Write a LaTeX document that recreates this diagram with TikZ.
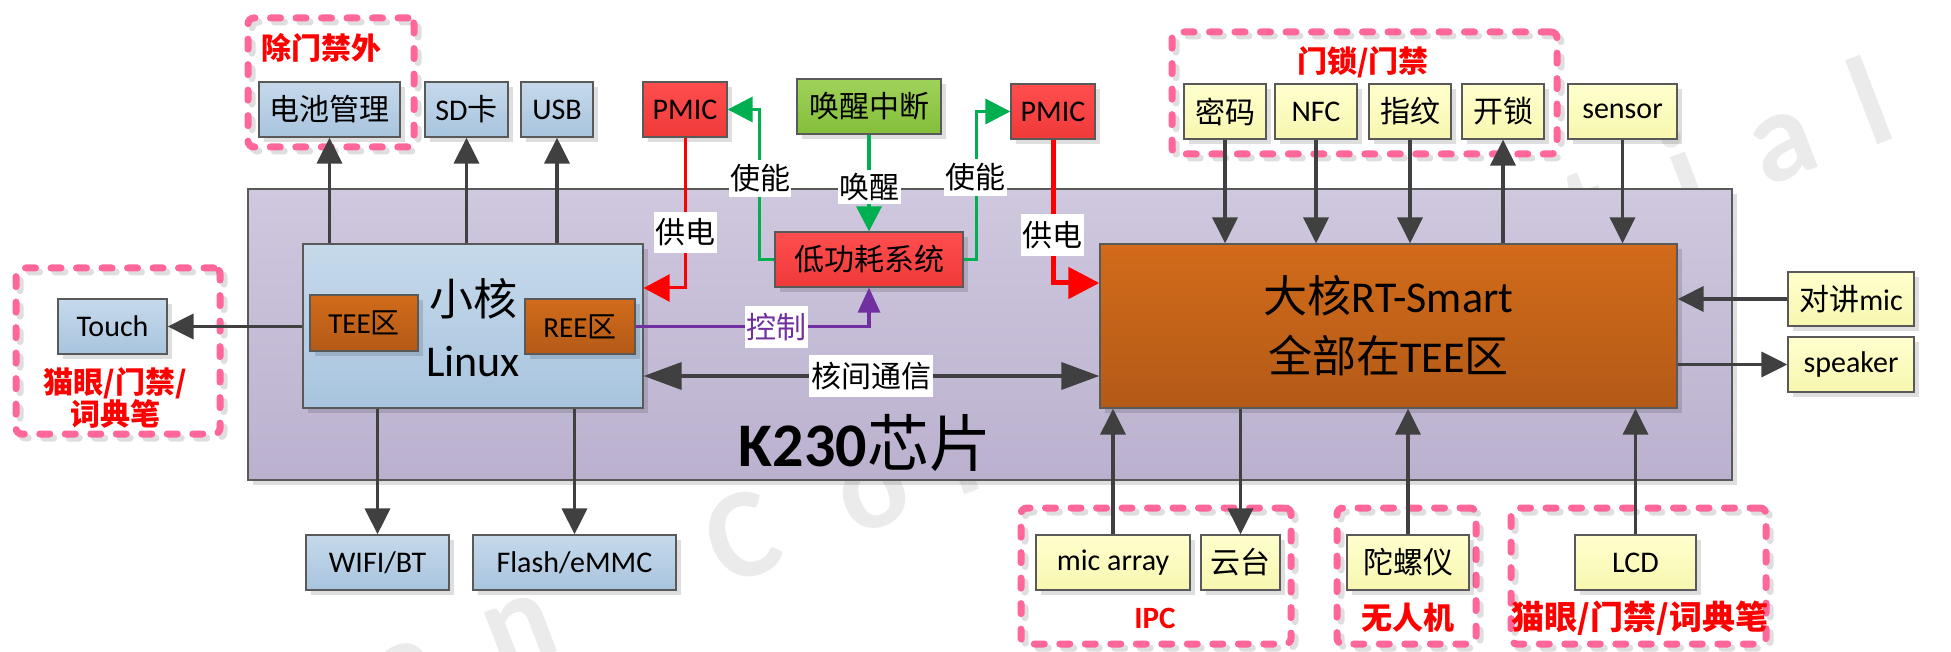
\documentclass[tikz,border=0pt]{standalone}
\usepackage{fontspec}
\setmainfont{Carlito}
\newfontfamily\cjk{Noto Sans CJK SC}
\usetikzlibrary{arrows.meta,shadows}
\definecolor{bdr}{HTML}{595959}
\definecolor{arr}{HTML}{404040}
\definecolor{pinkd}{HTML}{FF6699}
\definecolor{chipT}{HTML}{CFC8DE}
\definecolor{chipB}{HTML}{BBB1CF}
\definecolor{blueT}{HTML}{C6D9EB}
\definecolor{blueB}{HTML}{A8C4DE}
\definecolor{yelT}{HTML}{FFFFCE}
\definecolor{yelB}{HTML}{F7F7B0}
\definecolor{orT}{HTML}{D26B1A}
\definecolor{orB}{HTML}{B35A17}
\definecolor{redT}{HTML}{FF4D4D}
\definecolor{redB}{HTML}{F03A3A}
\definecolor{grnT}{HTML}{9FD25A}
\definecolor{grnB}{HTML}{84BE3A}
\definecolor{grnL}{HTML}{00B050}
\definecolor{purL}{HTML}{7030A0}
\definecolor{redL}{HTML}{FF0000}
\definecolor{wmark}{HTML}{EBEBEB}
\newcommand\fs[1]{\fontsize{#1}{#1}\selectfont}
\newcommand\bx[7]{%
  \pgfmathsetmacro\bxw{#5-#3}\pgfmathsetmacro\bxh{#6-#4}%
  \pgfmathsetmacro\bxcx{(#3+#5)/2}\pgfmathsetmacro\bxcy{(#4+#6)/2}%
  \node[#1, minimum width=\bxw pt, minimum height=\bxh pt] (#2) at (\bxcx,\bxcy) {#7};}
\tikzset{
  base/.style={draw=bdr, line width=1.3pt, inner sep=0pt, align=center,
    drop shadow={shadow xshift=5pt, shadow yshift=-5pt, fill=black, opacity=0.13}},
  bluebox/.style={base, top color=blueT, bottom color=blueB, font=\fs{30}},
  yelbox/.style={base, top color=yelT, bottom color=yelB, font=\fs{30}},
  orbox/.style={base, top color=orT, bottom color=orB, font=\fs{29}},
  redbox/.style={base, top color=redT, bottom color=redB, font=\fs{30}},
  grnbox/.style={base, top color=grnT, bottom color=grnB, font=\fs{30}},
  chipbox/.style={base, top color=chipT, bottom color=chipB},
  pinkdash/.style={draw=pinkd, line width=7pt, line cap=round, dash pattern=on 10pt off 15.5pt, rounded corners=6pt, inner sep=0pt},
  greydash/.style={pinkdash, draw=black!13},
  darr/.style={draw=arr, line width=3.5pt, -{Triangle[length=26pt,width=25pt]}},
  darr2/.style={draw=arr, line width=3.5pt, {Triangle[length=38pt,width=27pt]}-{Triangle[length=38pt,width=27pt]}},
  garr/.style={draw=grnL, line width=3.5pt, -{Triangle[length=25pt,width=25pt]}},
  parr/.style={draw=purL, line width=3.5pt, -{Triangle[length=25pt,width=22pt]}},
  rarr/.style={draw=redL, line width=3pt, -{Triangle[length=26pt,width=27pt]}},
  rarr2/.style={draw=redL, line width=5pt, -{Triangle[length=31pt,width=31pt]}},
  lbl/.style={fill=white, inner sep=0pt, font=\cjk\fs{30}},
  redlbl/.style={text=redL, inner sep=0pt, align=center},
  wm/.style={text=wmark, font=\bfseries\fs{128}, rotate=21, anchor=base, inner sep=0pt}
}
\begin{document}
\begin{tikzpicture}[x=1pt,y=-1pt]
\useasboundingbox (0,0) rectangle (1951,652);
% watermark
\foreach \xx/\ch [count=\k] in {418/a,532/n,757/C,886/o,990/n,1085/f,1170/i,1265/d,1370/e,1480/n,1603/t,1700/i,1795/a,1885/l}
  \node[wm] (wm\k) at (\xx,{575-0.3844*(\xx-757)}) {\ch};
% chip
\bx{chipbox}{chip}{248}{189}{1732}{480}{}
\node[font=\fs{62}, inner sep=0pt] (chiplbl) at (865,443) {\textbf{K230}{\cjk 芯片}};
% dashed group boxes
\bx{greydash}{g1s}{252}{22}{418}{151}{}
\bx{pinkdash}{g1}{248}{18}{414}{147}{}
\bx{greydash}{g2s}{20}{272}{224}{438}{}
\bx{pinkdash}{g2}{16}{268}{220}{434}{}
\bx{greydash}{g3s}{1176}{36}{1561}{158}{}
\bx{pinkdash}{g3}{1172}{32}{1557}{154}{}
\bx{greydash}{g4s}{1025}{512}{1295}{648}{}
\bx{pinkdash}{g4}{1021}{508}{1291}{644}{}
\bx{greydash}{g5s}{1341}{512}{1480}{648}{}
\bx{pinkdash}{g5}{1337}{508}{1476}{644}{}
\bx{greydash}{g6s}{1515}{512}{1770}{648}{}
\bx{pinkdash}{g6}{1511}{508}{1766}{644}{}
% group labels
\node[redlbl, font=\cjk\bfseries\fs{30}] (t1) at (321,48) {除门禁外};
\node[redlbl, font=\cjk\bfseries\fs{30}] (t2) at (115,398) {\fontsize{30}{41}\selectfont 猫眼/门禁/\\词典笔};
\node[redlbl, font=\cjk\bfseries\fs{30}] (t3) at (1363,62) {门锁/门禁};
\node[redlbl, font=\bfseries\fs{31}] (t4) at (1155,618) {IPC};
\node[redlbl, font=\cjk\bfseries\fs{31}] (t5) at (1408,618) {无人机};
\node[redlbl, font=\cjk\bfseries\fs{33}] (t6) at (1640,618) {猫眼/门禁/词典笔};
% cores
\bx{bluebox}{xiao}{303}{244}{643}{408}{}
\node[font=\fontsize{44}{61}\selectfont, align=center, inner sep=0pt] (xiaolbl) at (473,328) {{\cjk 小核}\\Linux};
\bx{orbox}{tee}{310}{295}{418}{351}{TEE{\cjk 区}}
\bx{orbox}{ree}{525}{299}{635}{354}{REE{\cjk 区}}
\bx{orbox, font=\fontsize{44}{60}\selectfont}{da}{1100}{244}{1677}{408}{{\cjk 大核}RT-Smart\\{\cjk 全部在}TEE{\cjk 区}}
% top boxes
\bx{bluebox}{bat}{259}{82}{400}{137}{\cjk 电池管理}
\bx{bluebox}{sd}{425}{82}{508}{137}{SD{\cjk 卡}}
\bx{bluebox}{usb}{521}{82}{593}{137}{USB}
\bx{redbox}{pmic1}{643}{82}{727}{137}{PMIC}
\bx{grnbox}{wake}{797}{79}{941}{134}{\cjk 唤醒中断}
\bx{redbox}{pmic2}{1011}{84}{1095}{139}{PMIC}
\bx{redbox}{lp}{775}{232}{963}{287}{\cjk 低功耗系统}
\bx{yelbox}{mima}{1184}{84}{1266}{139}{\cjk 密码}
\bx{yelbox}{nfc}{1275}{84}{1357}{139}{NFC}
\bx{yelbox}{zhiwen}{1369}{84}{1451}{139}{\cjk 指纹}
\bx{yelbox}{kaisuo}{1462}{84}{1544}{139}{\cjk 开锁}
\bx{yelbox}{sensor}{1568}{84}{1677}{139}{sensor}
% right boxes
\bx{yelbox}{mic}{1788}{272}{1914}{326}{{\cjk 对讲}mic}
\bx{yelbox}{spk}{1788}{337}{1914}{392}{speaker}
% left / bottom boxes
\bx{bluebox}{touch}{58}{299}{167}{354}{Touch}
\bx{bluebox}{wifi}{306}{535}{449}{590}{WIFI/BT}
\bx{bluebox}{flash}{473}{535}{676}{590}{Flash/eMMC}
\bx{yelbox}{micarr}{1036}{535}{1190}{590}{mic array}
\bx{yelbox}{yuntai}{1201}{535}{1280}{590}{\cjk 云台}
\bx{yelbox}{tuoluo}{1347}{535}{1469}{590}{\cjk 陀螺仪}
\bx{yelbox}{lcd}{1575}{535}{1696}{590}{LCD}
% connectors small core
\draw[darr] (bat |- xiao.north) -- (bat.south);
\draw[darr] (sd |- xiao.north) -- (sd.south);
\draw[darr] (usb |- xiao.north) -- (usb.south);
\draw[darr] (wifi |- xiao.south) -- (wifi.north);
\draw[darr] (flash |- xiao.south) -- (flash.north);
\draw[darr] (xiao.west |- touch) -- (touch.east);
\coordinate (hj) at (0,376);
\draw[darr2] (xiao.east |- hj) -- (da.west |- hj);
% low power system
\draw[parr] (ree.east) -| (lp.south);
\draw[garr] (wake.south) -- (lp.north);
\draw[garr] (lp.west) -- ++(-15,0) |- (pmic1.east);
\draw[garr] (lp.east) -- ++(13,0) |- (pmic2.west);
\draw[rarr] (pmic1.south) |- ([yshift=38pt]xiao.east);
\draw[rarr2] (pmic2.south) |- ([yshift=43pt]da.west);
% big core
\draw[darr] (mima.south) -- (mima |- da.north);
\draw[darr] (nfc.south) -- (nfc |- da.north);
\draw[darr] (zhiwen.south) -- (zhiwen |- da.north);
\draw[darr] (kaisuo |- da.north) -- (kaisuo.south);
\draw[darr] (sensor.south) -- (sensor |- da.north);
\draw[darr] (mic.west) -- (da.east |- mic);
\draw[darr] (da.east |- spk) -- (spk.west);
\draw[darr] (micarr.north) -- (micarr |- da.south);
\draw[darr] (yuntai |- da.south) -- (yuntai.north);
\draw[darr] (tuoluo.north) -- (tuoluo |- da.south);
\draw[darr] (lcd.north) -- (lcd |- da.south);
% labels
\node[lbl, minimum width=62pt, minimum height=37pt] (en1) at (760,178.5) {使能};
\node[lbl, minimum width=63pt, minimum height=34pt] (wk) at (869.5,187) {唤醒};
\node[lbl, minimum width=63pt, minimum height=37pt] (en2) at (975.5,177.5) {使能};
\node[lbl, minimum width=63pt, minimum height=41pt] (pw1) at (685.5,232.5) {供电};
\node[lbl, minimum width=63pt, minimum height=42pt] (pw2) at (1052.5,235) {供电};
\node[lbl, minimum width=63pt, minimum height=42pt, text=purL] (ctl) at (776.5,327) {控制};
\node[lbl, minimum width=124pt, minimum height=42pt] (ipc) at (871,376) {核间通信};
\end{tikzpicture}
\end{document}
